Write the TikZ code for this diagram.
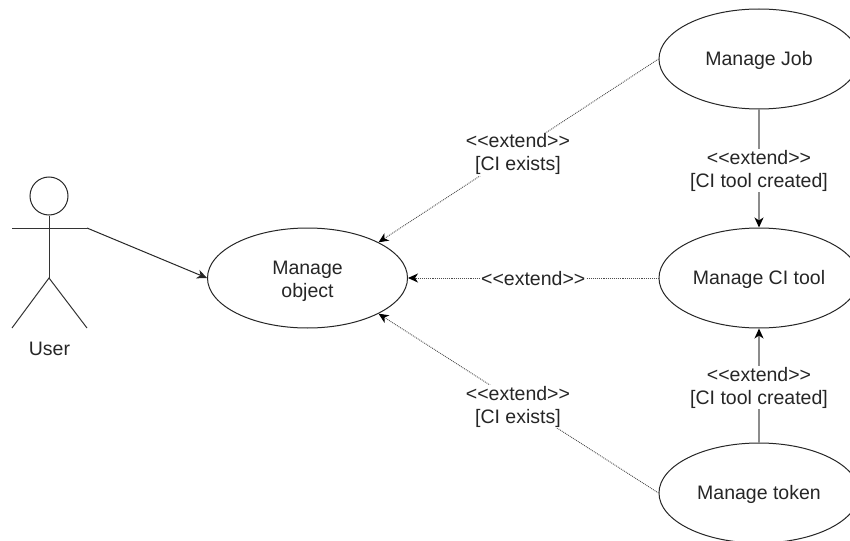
\documentclass[tikz,border=0pt]{standalone}
\usepackage{fontspec}
\setmainfont{Liberation Sans}
\usetikzlibrary{arrows.meta,shapes.geometric}
\newcommand{\lift}[1]{\rule{0pt}{#1pt}}
\tikzset{
  every node/.style={font=\fontsize{19.5}{23}\selectfont,text=black!85},
  usecase/.style={ellipse,draw=black!85,line width=1pt,fill=white,minimum width=200pt,minimum height=100pt,inner sep=0pt,align=center},
  actorline/.style={draw=black!80,line width=1pt},
  assoc/.style={draw=black!85,line width=1pt,-{Stealth[length=10pt,width=9pt,inset=3pt]}},
  extdot/.style={draw=black!70,line width=0.9pt,densely dotted,-{Stealth[length=10pt,width=9pt,inset=3pt,color=black,fill=black]}},
  extsolid/.style={draw=black!45,line width=1.4pt,-{Stealth[length=10pt,width=9pt,inset=3pt,color=black,fill=black]}},
  lbl/.style={fill=white,inner sep=1pt,align=center}
}
\begin{document}
\begin{tikzpicture}[x=1pt,y=-1pt]
\useasboundingbox (0,0) rectangle (850,540);
\clip (0,0) rectangle (850,540);
\node[usecase] (obj) at (307.5,278) {\lift{20}Manage\\object};
\node[usecase] (job) at (759,59) {\lift{17}Manage Job};
\node[usecase] (tool) at (759,278) {\lift{17}Manage CI tool};
\node[usecase] (token) at (759,493) {\lift{18}Manage token};
\node[circle,draw=black!85,line width=1pt,minimum size=38pt,inner sep=0pt] (head) at (49,196) {};
\coordinate (armL) at (12,228);
\coordinate (armR) at (87,228);
\coordinate (hip) at (49,278);
\coordinate (footL) at (12,328);
\coordinate (footR) at (87,328);
\node[xshift=0.5pt] (user) at (49,349) {User};
\draw[actorline] (head.south) -- (hip);
\draw[actorline] (armL) -- (armR);
\draw[actorline] (footL) -- (hip) -- (footR);
\draw[assoc] (armR) -- (obj.west);
\draw[extdot] (job.west) -- node[lbl,pos=0.52,xshift=5pt] {<{}<extend>{}>\\{}[CI exists]} (obj.north east);
\draw[extdot] (tool.west) -- node[lbl,pos=0.5,yshift=-1pt] {<{}<extend>{}>} (obj.east);
\draw[extdot] (token.west) -- node[lbl,pos=0.52,xshift=5pt,yshift=-7pt] {<{}<extend>{}>\\{}[CI exists]} (obj.south east);
\draw[extsolid] (job.south) -- node[lbl,pos=0.5,yshift=-2pt] {<{}<extend>{}>\\{}[CI tool created]} (tool.north);
\draw[extsolid] (token.north) -- node[lbl,pos=0.5,yshift=-2pt] {<{}<extend>{}>\\{}[CI tool created]} (tool.south);
\end{tikzpicture}
\end{document}
